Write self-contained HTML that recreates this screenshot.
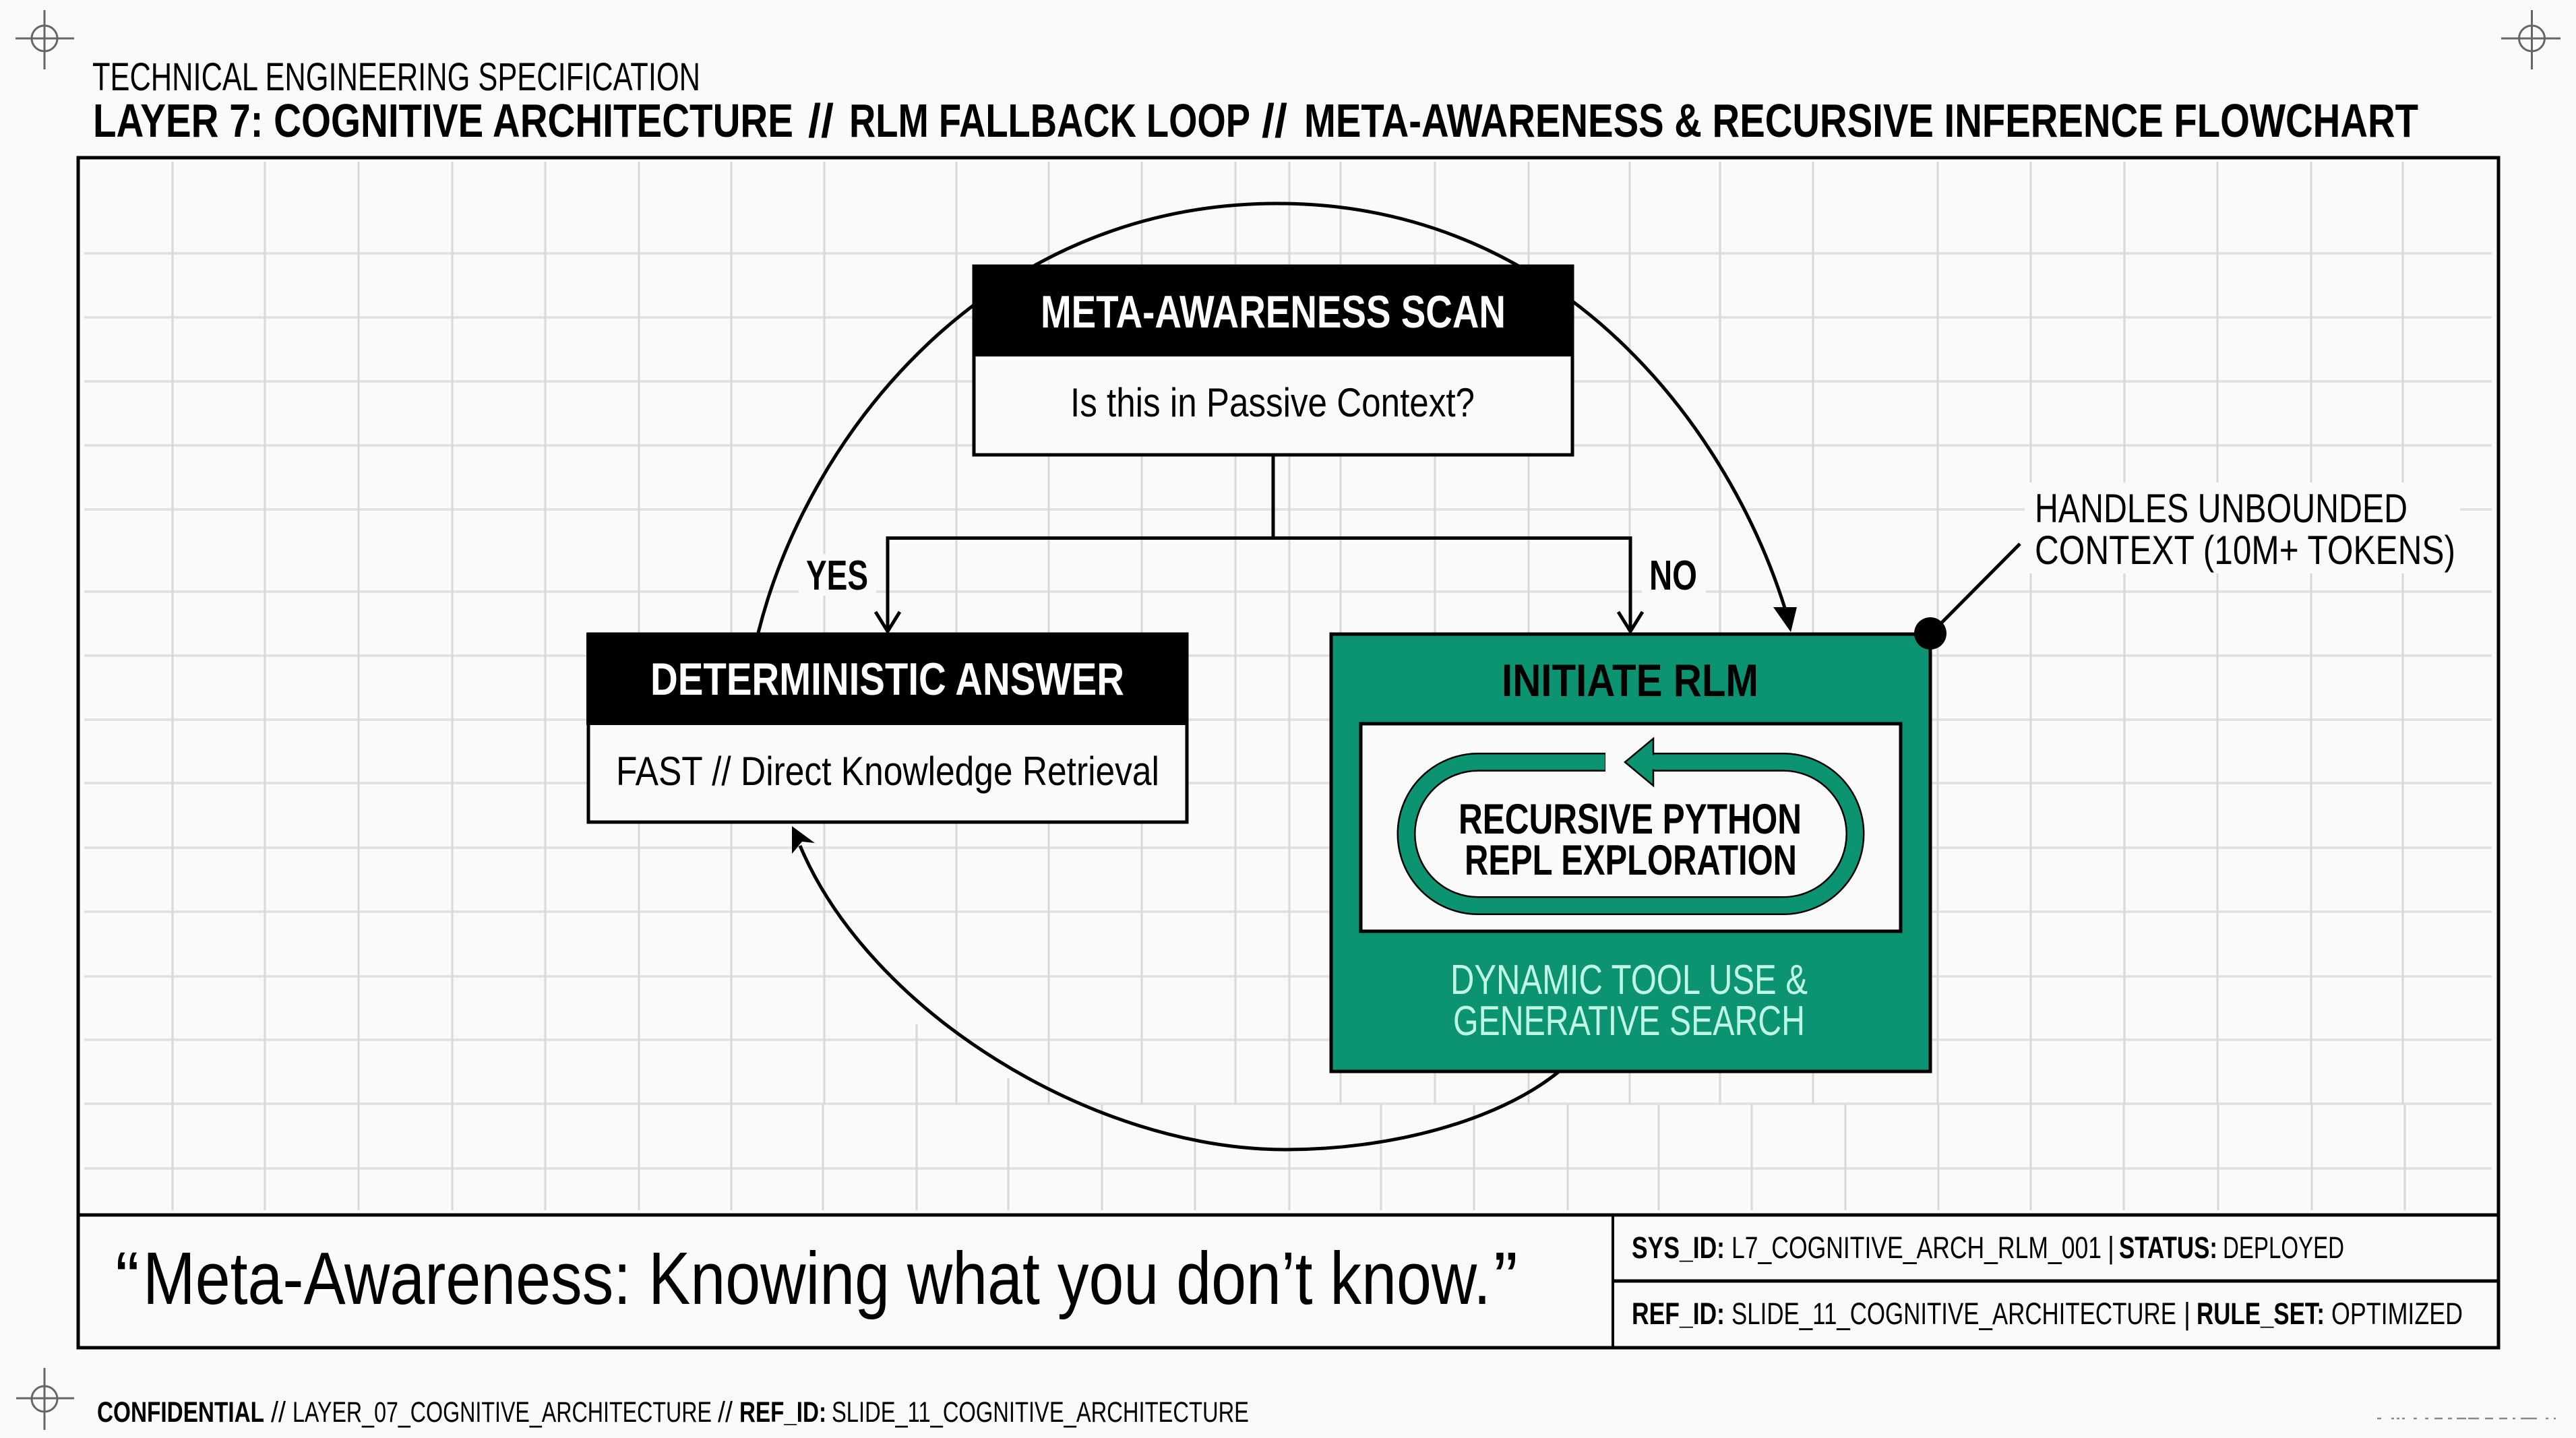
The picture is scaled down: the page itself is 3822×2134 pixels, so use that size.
<!DOCTYPE html>
<html lang="en">
<head>
<meta charset="utf-8">
<title>Layer 7: Cognitive Architecture</title>
<style>
html,body{margin:0;padding:0;background:#fafafa;width:3822px;height:2134px;overflow:hidden}
svg{display:block}
text{font-family:"Liberation Sans",sans-serif;fill:#000}
.b{font-weight:700}
</style>
</head>
<body>
<svg xmlns="http://www.w3.org/2000/svg" width="3822" height="2134" viewBox="0 0 3822 2134">
<rect width="3822" height="2134" fill="#fafafa"/>

<!-- grid -->
<path fill="none" stroke="#e0e0e0" stroke-width="3.500" d="M125 376H3697M125 471H3697M125 566H3697M125 661H3697M125 756H3697M125 878H3697M125 973H3697M125 1068H3697M125 1162H3697M125 1258H3697M125 1353H3697M125 1449H3697M125 1543H3697M125 1638H3697M125 1734H3697"/>
<path fill="none" stroke="#d8d8d8" stroke-width="3" d="M256 240V1639M393 240V1639M532 240V1639M671 240V1639M809 240V1639M948 240V1639M1085 240V1639M1223 240V1639M1419 240V1639M1556 240V1639M1694 240V1639M1833 240V1639M1913 240V1639M1989 240V1639M2129 240V1639M2268 240V1639M2418 240V1639M2552 240V1639M2690 240V1639M2875 240V1639M3013 240V1639M3152 240V1639M3290 240V1639M3429 240V1639M3565 240V1639"/>
<path fill="none" stroke="#d8d8d8" stroke-width="3" d="M256 1639V1796M393 1639V1796M532 1639V1796M671 1639V1796M809 1639V1796M948 1639V1796M1085 1639V1796M1221 1639V1796M1360 1520V1796M1496 1600V1796M1635 1639V1796M1773 1639V1796M1913 1639V1796M2049 1639V1796M2187 1639V1796M2326 1639V1796M2461 1639V1796M2599 1639V1796M2738 1639V1796M2876 1639V1796M3013 1639V1796M3151 1639V1796M3291 1639V1796M3430 1639V1796M3568 1639V1796"/>

<!-- label halos -->
<rect x="3004" y="716" width="646" height="135" fill="#fafafa"/>
<rect x="1185" y="822" width="115" height="62" fill="#fafafa"/>
<rect x="2436" y="822" width="95" height="62" fill="#fafafa"/>

<!-- crosshairs -->
<g fill="none" stroke="#666" stroke-width="3">
<path d="M23 57H110M66 15V103"/><circle cx="66" cy="57" r="19"/>
<path d="M3711 57H3799M3756.500 15V103"/><circle cx="3756.500" cy="57" r="19"/>
<path d="M24 2075H110M66 2030V2122"/><circle cx="66" cy="2076" r="19"/>
</g>

<!-- header -->
<text x="137" y="134" font-size="58" textLength="902" lengthAdjust="spacingAndGlyphs">TECHNICAL ENGINEERING SPECIFICATION</text>
<g class="b" font-size="70" font-weight="700">
<text x="138" y="203" textLength="1039" lengthAdjust="spacingAndGlyphs">LAYER 7: COGNITIVE ARCHITECTURE</text>
<text x="1199" y="203" textLength="38" lengthAdjust="spacingAndGlyphs">//</text>
<text x="1260" y="203" textLength="595" lengthAdjust="spacingAndGlyphs">RLM FALLBACK LOOP</text>
<text x="1872" y="203" textLength="38" lengthAdjust="spacingAndGlyphs">//</text>
<text x="1935" y="203" textLength="1653" lengthAdjust="spacingAndGlyphs">META-AWARENESS &amp; RECURSIVE INFERENCE FLOWCHART</text>
</g>

<!-- frame -->
<g fill="none" stroke="#000" stroke-width="5">
<rect x="116" y="234" width="3591" height="1766"/>
<path d="M116 1803H3707"/>
<path d="M2393 1803V2000" stroke-width="4"/>
<path d="M2393 1901H3707"/>
</g>

<!-- feedback arcs -->
<g fill="none" stroke="#000" stroke-width="5">
<path d="M1125 939C1200 640 1470 302 1895 302C2320 302 2570 640 2652 915"/>
<path d="M2312 1591C2220 1665 2060 1706 1908 1706C1620 1706 1290 1500 1187 1255"/>
</g>
<polygon points="2657,938 2631,901 2666,901" fill="#000"/>
<polygon points="1175,1226 1209,1251 1190,1249 1175,1267" fill="#000"/>

<!-- decision connectors -->
<g fill="none" stroke="#000" stroke-width="5">
<path d="M1889 676V798"/>
<path d="M1317 937V798.500H2419V937"/>
<path d="M1299 908L1317 937L1335 908"/>
<path d="M2401 908L2419 937L2437 908"/>
</g>
<text class="b" x="1196" y="875" font-size="62" textLength="92" lengthAdjust="spacingAndGlyphs">YES</text>
<text class="b" x="2447" y="875" font-size="62" textLength="71" lengthAdjust="spacingAndGlyphs">NO</text>

<!-- Meta-awareness node -->
<rect x="1445" y="395" width="888" height="280" fill="#fafafa" stroke="#000" stroke-width="5"/>
<rect x="1443" y="393" width="892" height="136" fill="#000"/>
<text class="b" x="1544" y="486" font-size="68" textLength="690" lengthAdjust="spacingAndGlyphs" style="fill:#fff">META-AWARENESS SCAN</text>
<text x="1588" y="618" font-size="60" textLength="600" lengthAdjust="spacingAndGlyphs">Is this in Passive Context?</text>

<!-- Deterministic node -->
<rect x="873" y="941" width="888" height="279" fill="#fafafa" stroke="#000" stroke-width="5"/>
<rect x="870" y="939" width="893" height="137" fill="#000"/>
<text class="b" x="965" y="1031" font-size="68" textLength="703" lengthAdjust="spacingAndGlyphs" style="fill:#fff">DETERMINISTIC ANSWER</text>
<text x="914" y="1165" font-size="60" textLength="806" lengthAdjust="spacingAndGlyphs">FAST // Direct Knowledge Retrieval</text>

<!-- RLM node -->
<rect x="1975" y="941" width="889" height="649" fill="#0c9472" stroke="#000" stroke-width="5"/>
<text class="b" x="2228" y="1033" font-size="68" textLength="381" lengthAdjust="spacingAndGlyphs">INITIATE RLM</text>
<rect x="2019" y="1074" width="801" height="308" fill="#fafafa" stroke="#000" stroke-width="5"/>

<!-- recursion loop -->
<path d="M2382 1131H2193A106.500 106.500 0 0 0 2193 1344H2646A106.500 106.500 0 0 0 2646 1131H2451" fill="none" stroke="#000" stroke-width="28"/>
<path d="M2381 1131H2193A106.500 106.500 0 0 0 2193 1344H2646A106.500 106.500 0 0 0 2646 1131H2450" fill="none" stroke="#0c9472" stroke-width="23"/>
<polygon points="2411,1131 2453,1096 2453,1166" fill="#0c9472" stroke="#000" stroke-width="2.500"/>
<rect x="2451" y="1120.500" width="6" height="21" fill="#0c9472"/>

<text class="b" x="2164" y="1237" font-size="63" textLength="509" lengthAdjust="spacingAndGlyphs">RECURSIVE PYTHON</text>
<text class="b" x="2173" y="1298" font-size="63" textLength="493" lengthAdjust="spacingAndGlyphs">REPL EXPLORATION</text>
<text x="2152" y="1475" font-size="62" textLength="530" lengthAdjust="spacingAndGlyphs" style="fill:#c0f7e4">DYNAMIC TOOL USE &amp;</text>
<text x="2156" y="1536" font-size="62" textLength="522" lengthAdjust="spacingAndGlyphs" style="fill:#c0f7e4">GENERATIVE SEARCH</text>

<!-- callout -->
<path d="M2997 807L2864 941" fill="none" stroke="#000" stroke-width="5"/>
<circle cx="2864" cy="940" r="24" fill="#000"/>
<text x="3019" y="775" font-size="60" textLength="553" lengthAdjust="spacingAndGlyphs">HANDLES UNBOUNDED</text>
<text x="3019" y="837" font-size="60" textLength="624" lengthAdjust="spacingAndGlyphs">CONTEXT (10M+ TOKENS)</text>

<!-- footer panel -->
<g font-size="110">
<text x="171" y="1935" textLength="36" lengthAdjust="spacingAndGlyphs">“</text>
<text x="212" y="1935" textLength="2000" lengthAdjust="spacingAndGlyphs">Meta-Awareness: Knowing what you don’t know.</text>
<text x="2216" y="1935" textLength="36" lengthAdjust="spacingAndGlyphs">”</text>
</g>

<g font-size="45">
<text class="b" x="2421" y="1867" textLength="138" lengthAdjust="spacingAndGlyphs">SYS_ID:</text>
<text x="2569" y="1867" textLength="549" lengthAdjust="spacingAndGlyphs">L7_COGNITIVE_ARCH_RLM_001</text>
<text x="3127" y="1867" textLength="10" lengthAdjust="spacingAndGlyphs">|</text>
<text class="b" x="3144" y="1867" textLength="146" lengthAdjust="spacingAndGlyphs">STATUS:</text>
<text x="3298" y="1867" textLength="180" lengthAdjust="spacingAndGlyphs">DEPLOYED</text>

<text class="b" x="2421" y="1965" textLength="138" lengthAdjust="spacingAndGlyphs">REF_ID:</text>
<text x="2569" y="1965" textLength="660" lengthAdjust="spacingAndGlyphs">SLIDE_11_COGNITIVE_ARCHITECTURE</text>
<text x="3240" y="1965" textLength="10" lengthAdjust="spacingAndGlyphs">|</text>
<text class="b" x="3259" y="1965" textLength="190" lengthAdjust="spacingAndGlyphs">RULE_SET:</text>
<text x="3459" y="1965" textLength="195" lengthAdjust="spacingAndGlyphs">OPTIMIZED</text>
</g>

<g font-size="43">
<text class="b" x="144" y="2110" textLength="248" lengthAdjust="spacingAndGlyphs">CONFIDENTIAL</text>
<text x="402" y="2110" textLength="22" lengthAdjust="spacingAndGlyphs">//</text>
<text x="434" y="2110" textLength="622" lengthAdjust="spacingAndGlyphs">LAYER_07_COGNITIVE_ARCHITECTURE</text>
<text x="1065" y="2110" textLength="22" lengthAdjust="spacingAndGlyphs">//</text>
<text class="b" x="1097" y="2110" textLength="129" lengthAdjust="spacingAndGlyphs">REF_ID:</text>
<text x="1234" y="2110" textLength="619" lengthAdjust="spacingAndGlyphs">SLIDE_11_COGNITIVE_ARCHITECTURE</text>
</g>

<!-- blurred watermark remnant -->
<path d="M3527 2105h6M3548 2105h4M3556 2105h4M3564 2105h4M3581 2105h5M3598 2105h5M3612 2105h12M3632 2105h6M3645 2105h14M3662 2105h16M3687 2105h12M3708 2105h12M3728 2105h4M3740 2105h24M3777 2105h4M3789 2105h3" fill="none" stroke="#8a8a8a" stroke-width="2.500"/>
</svg>
</body>
</html>
